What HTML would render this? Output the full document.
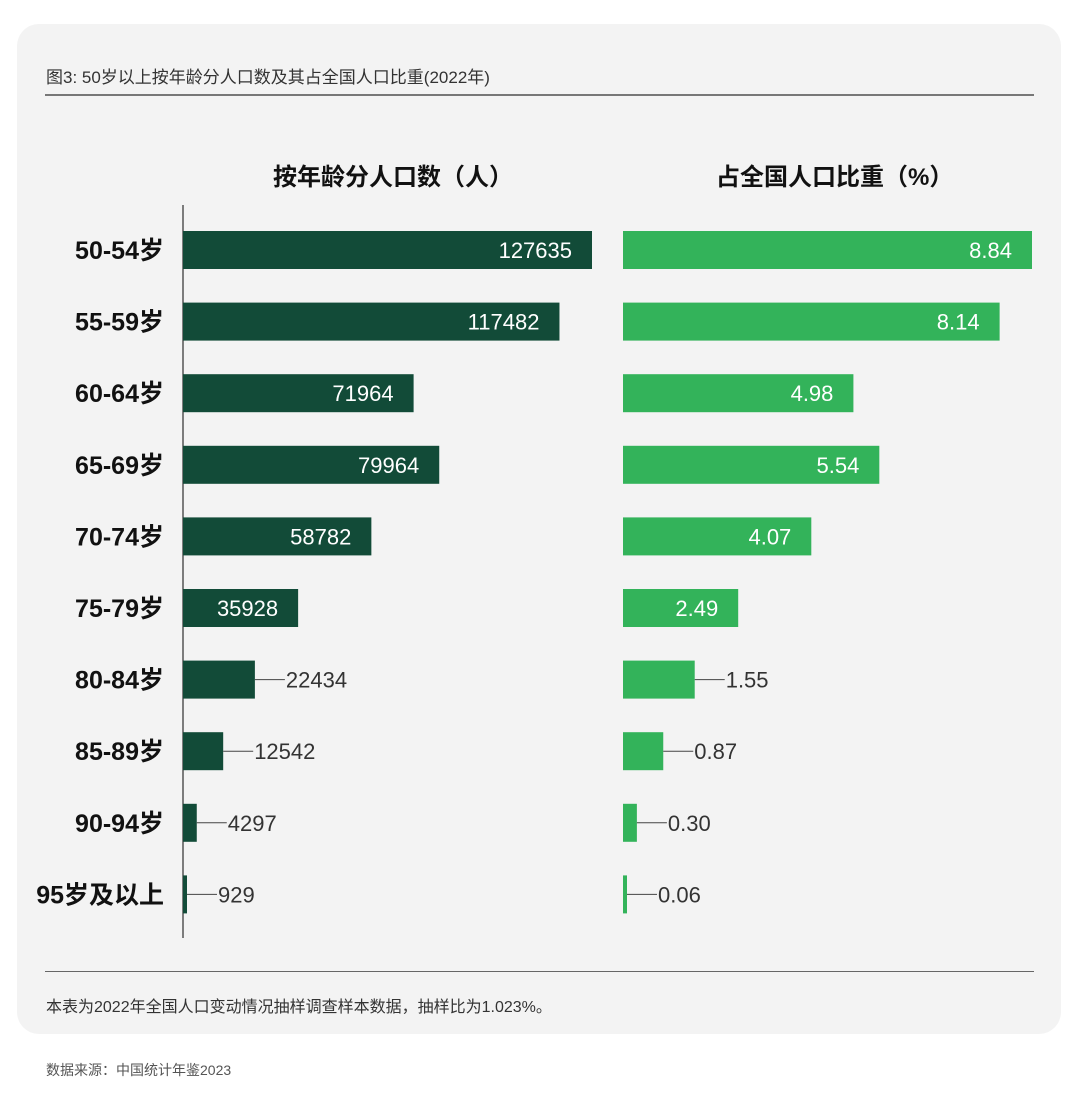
<!DOCTYPE html>
<html><head><meta charset="utf-8">
<style>
body{margin:0;width:1080px;height:1102px;background:#fff;font-family:"Liberation Sans","Noto Sans CJK SC",sans-serif;position:relative;overflow:hidden}
#card{position:absolute;left:17px;top:24px;width:1044px;height:1010px;background:#f3f3f3;border-radius:22px}
.t{position:absolute;white-space:nowrap}
</style></head><body>
<div id="card"></div>
<div class="t" style="left:46px;top:63px;font-size:17px;color:#333">图3: 50岁以上按年龄分人口数及其占全国人口比重(2022年)</div>
<div style="position:absolute;left:45px;top:94px;width:989px;height:2px;background:#777"></div>
<div class="t" style="left:273px;top:157px;font-size:24px;font-weight:bold;color:#111">按年龄分人口数（人）</div>
<div class="t" style="left:716px;top:157px;font-size:24px;font-weight:bold;color:#111">占全国人口比重（%）</div>
<svg id="chart" width="1080" height="1102" style="position:absolute;left:0;top:0"></svg>
<div style="position:absolute;left:45px;top:971px;width:989px;height:1px;background:#666"></div>
<div class="t" style="left:46px;top:993px;font-size:16px;color:#333">本表为2022年全国人口变动情况抽样调查样本数据，抽样比为1.023%。</div>
<div class="t" style="left:46px;top:1060px;font-size:14px;color:#555">数据来源：中国统计年鉴2023</div>
<script>
const categories=["50-54岁","55-59岁","60-64岁","65-69岁","70-74岁","75-79岁","80-84岁","85-89岁","90-94岁","95岁及以上"];
const population=[127635,117482,71964,79964,58782,35928,22434,12542,4297,929];
const share=[8.84,8.14,4.98,5.54,4.07,2.49,1.55,0.87,0.30,0.06];
const shareLabels=["8.84","8.14","4.98","5.54","4.07","2.49","1.55","0.87","0.30","0.06"];
const svg=document.getElementById('chart');const NS='http://www.w3.org/2000/svg';
function mk(t,a){const e=document.createElementNS(NS,t);for(const k in a)e.setAttribute(k,a[k]);svg.appendChild(e);return e;}
const rowY=i=>231+i*71.6;const BH=38;
const xL=v=>183+v*409/127635;const xR=v=>623+v*409/8.84;
const axis=mk('line',{x1:183,y1:205,x2:183,y2:938,stroke:'#555','stroke-width':1.5});

function bar(x0,x1,y,col,label,inside,name){
 const r=mk('rect',{x:x0,y:y,width:Math.max(x1-x0,4),height:BH,fill:col});
 
 const end=Math.max(x1,x0+4);
 if(inside){const t=mk('text',{x:end-20,y:y+27,'text-anchor':'end','font-size':22,fill:'#fff'});t.textContent=label;
  }
 else{const l=mk('line',{x1:end,y1:y+BH/2,x2:end+30,y2:y+BH/2,stroke:'#444','stroke-width':1});
  
  const t=mk('text',{x:end+31,y:y+27,'font-size':22,fill:'#333'});t.textContent=label;
  }
}
categories.forEach((c,i)=>{
 const y=rowY(i);
 const t=mk('text',{x:164,y:y+28,'text-anchor':'end','font-size':25,'font-weight':'bold',fill:'#111'});t.textContent=c;
 
 bar(183,xL(population[i]),y,'#124b38',String(population[i]),population[i]>30000,'population-bar');
 bar(623,xR(share[i]),y,'#33b35a',shareLabels[i],share[i]>2,'share-bar');
});
</script>
</body></html>
